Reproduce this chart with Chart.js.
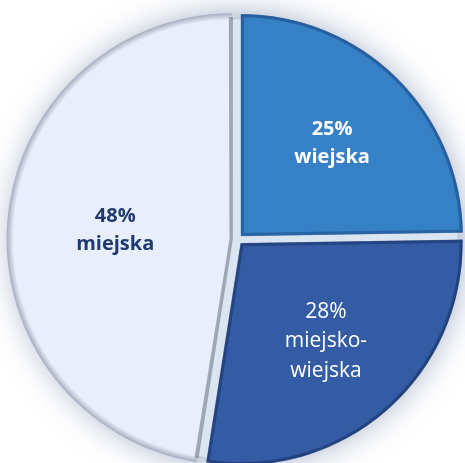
<!DOCTYPE html>
<html>
<head>
<meta charset="utf-8">
<script src="https://cdn.jsdelivr.net/npm/chart.js@4"></script>
<style>
  html, body { margin: 0; padding: 0; background: #ffffff; overflow: hidden; }
  #wrap { width: 465px; height: 463px; position: relative; }
</style>
</head>
<body>
<div id="wrap"><canvas id="chartGmina" width="465" height="463"></canvas></div>
<script>
/* Typ gminy - udzial procentowy */
const categories = ['wiejska', 'miejsko-wiejska', 'miejska'];
const percents = [25, 28, 48];

const sliceColors = ['#3680c6', '#345ca4', '#e8eefa'];
const rimColors = ['#1f5291', '#203c75', '#9aa3b5'];
const edgeColors = ['rgba(25,70,130,0.5)', 'rgba(20,45,95,0.5)', 'rgba(70,78,95,0.45)'];
const labelColors = ['#ffffff', '#ffffff', '#1f3a6e'];
const labelWeights = ['bold', 'normal', 'bold'];
const labelSizes = [20, 21, 20];
const labelDist = [0.585, 0.585, 0.53];

const PIE_RADIUS = 222;
const PIE_OFFSET = 20; // Chart.js przesuwa o offset/4

/* wypelnienie z ciemniejsza krawedzia */
const sliceFill = (context) => {
  const i = context.dataIndex;
  const area = context.chart.chartArea;
  if (!area) return sliceColors[i];
  const cx = (area.left + area.right) / 2;
  const cy = (area.top + area.bottom) / 2;
  const g = context.chart.ctx.createRadialGradient(cx, cy, 0, cx, cy, PIE_RADIUS + 5);
  g.addColorStop(0, sliceColors[i]);
  g.addColorStop(0.93, sliceColors[i]);
  g.addColorStop(0.965, sliceColors[i]);
  g.addColorStop(1, rimColors[i]);
  return g;
};

/* poswiata pod kolem */
const pieGlow = {
  id: 'pieGlow',
  beforeDatasetsDraw(chart) {
    const arc = chart.getDatasetMeta(0).data[0];
    if (!arc) return;
    const ctx = chart.ctx;
    ctx.save();
    ctx.shadowColor = 'rgba(75,100,150,0.7)';
    ctx.shadowBlur = 36;
    ctx.fillStyle = '#dbe5f2';
    ctx.beginPath();
    ctx.arc(arc.x, arc.y, arc.outerRadius - 2, 0, Math.PI * 2);
    ctx.fill();
    ctx.restore();
  },
};

/* etykiety na wycinkach */
const sliceLabels = {
  id: 'sliceLabels',
  afterDatasetsDraw(chart) {
    const ctx = chart.ctx;
    chart.getDatasetMeta(0).data.forEach((arc, i) => {
      const mid = (arc.startAngle + arc.endAngle) / 2;
      const dist = arc.outerRadius * labelDist[i] + arc.options.offset / 4;
      const x = arc.x + Math.cos(mid) * dist;
      const y = arc.y + Math.sin(mid) * dist;
      const lines = [percents[i] + '%'].concat(categories[i].replace('-', '-\n').split('\n'));
      const lh = labelSizes[i] * 1.4;
      ctx.save();
      ctx.font = labelWeights[i] + ' ' + labelSizes[i] + 'px "Open Sans"';
      ctx.fillStyle = labelColors[i];
      ctx.textAlign = 'center';
      ctx.textBaseline = 'middle';
      lines.forEach((t, k) => {
        ctx.fillText(t, x, y + (k - (lines.length - 1) / 2) * lh);
      });
      ctx.restore();
    });
  },
};

const ctx = document.getElementById('chartGmina').getContext('2d');
const chartGmina = new Chart(ctx, {
  type: 'pie',
  data: {
    labels: categories,
    datasets: [
      {
        data: percents,
        backgroundColor: sliceFill,
        borderColor: edgeColors,
        borderWidth: 3,
        borderAlign: 'inner',
        offset: PIE_OFFSET,
      },
    ],
  },
  options: {
    responsive: false,
    animation: false,
    radius: PIE_RADIUS,
    layout: {
      padding: { left: 10, top: 16 },
    },
    events: [],
    plugins: {
      legend: { display: false },
      tooltip: { enabled: false },
    },
  },
  plugins: [pieGlow, sliceLabels],
});
</script>
</body>
</html>
